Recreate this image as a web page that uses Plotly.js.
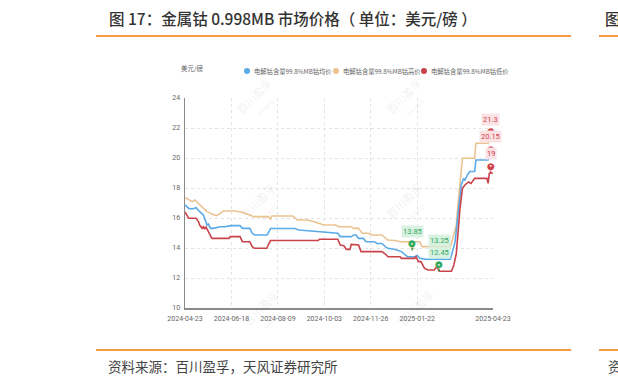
<!DOCTYPE html>
<html>
<head>
<meta charset="utf-8">
<script src="https://cdn.plot.ly/plotly-3.0.1.min.js"></script>
<style>html,body{margin:0;padding:0;background:#fff;}#chart{width:618px;height:384px;}</style>
</head>
<body>
<div id="chart"></div>
<script>
// ---- data (x = trading-day index from 2024-04-23) ----
const tickIdx = [0, 38, 76, 114, 152, 190, 252];
const tickLabels = ['2024-04-23', '2024-06-18', '2024-08-09', '2024-10-03', '2024-11-26', '2025-01-22', '2025-04-23'];
const seriesNames = ['电解钴含量99.8%MB钴均价', '电解钴含量99.8%MB钴高价', '电解钴含量99.8%MB钴低价'];

const xHigh = [0,3,6,8,11,15,18,23,26,29,31,41,47,53,56,68,70,71,88,92,100,105,113,123,126,136,138,142,145,150,153,161,164,166,172,176,184,186,188,192,194,217,219,222,223,225,226,227,237,238,248,250,252];
const yHigh = [17.36,17.2,17.09,17.2,16.98,16.64,16.42,16.24,16.16,16.31,16.47,16.47,16.38,16.2,16.09,16.09,15.93,16.13,16.13,15.87,15.87,15.76,15.55,15.53,15.42,15.42,15.31,15.31,14.98,14.98,14.87,14.87,14.64,14.53,14.5,14.42,14.42,13.85,14.42,14.42,14.09,14.09,14.64,15.53,16.64,18.2,18.87,19.98,19.98,20.98,20.98,21.3,21.3];

const xAvg = [0,3,6,9,12,15,16,18,19,21,23,26,29,33,37,45,47,53,55,57,67,68,70,90,93,108,122,125,127,136,138,140,142,146,148,155,157,161,164,166,172,177,182,188,190,192,197,217,218,221,223,225,226,228,229,231,233,237,238,248,250,252];
const yAvg = [16.87,16.64,16.6,16.69,16.42,16.2,15.98,15.53,15.6,15.31,15.31,15.38,15.42,15.42,15.49,15.49,15.31,15.31,14.98,14.87,14.87,14.98,15.3,15.3,15.2,15.1,14.98,14.98,14.76,14.76,14.87,14.87,14.64,14.64,14.42,14.42,14.3,14.3,14.09,13.98,13.9,13.76,13.42,13.42,13.5,13.31,13.25,13.25,13.5,14.42,15.98,17.31,18.2,18.64,18.5,18.87,19.1,19.1,19.87,19.87,20.15,20.15];

const xLow = [0,3,9,11,12,14,15,16,17,19,20,22,36,37,45,47,53,55,57,67,68,70,109,110,125,127,130,132,135,136,142,144,161,164,166,176,177,188,189,191,193,196,199,204,206,208,218,220,222,223,225,226,227,229,232,234,237,247,248,249,252];
const yLow = [16.4,15.98,15.98,15.76,15.53,15.31,15.42,15.25,15.42,15.09,14.87,14.64,14.64,14.76,14.76,14.42,14.42,14.09,13.98,13.98,14.2,14.5,14.5,14.58,14.58,14.2,14.15,13.91,13.91,14.24,14.2,13.76,13.76,13.6,13.42,13.42,13.31,13.31,13.42,13.09,13.09,12.64,12.53,12.53,12.76,12.45,12.45,12.87,13.64,14.87,16.64,17.31,17.98,18.2,18.4,18.3,18.64,18.64,18.31,18.98,19.0];

// extreme-value markers: [series, x index, value]
const minPoints = [['high', 186, 13.85], ['avg', 208, 13.25], ['low', 208, 12.45]];
const maxPoints = [['high', 250, 21.3], ['avg', 250, 20.15], ['low', 250, 19]];

// ---- styles ----
const cAvg = '#5AAAE8', cHigh = '#EAC391', cLow = '#C9434A';
const W = 618, H = 384;
const px = v => v / W, py = v => 1 - v / H;

const traces = [
  {x: xHigh, y: yHigh, name: seriesNames[1], mode: 'lines', line: {color: cHigh, width: 1.6}},
  {x: xAvg, y: yAvg, name: seriesNames[0], mode: 'lines', line: {color: cAvg, width: 1.6}},
  {x: xLow, y: yLow, name: seriesNames[2], mode: 'lines', line: {color: cLow, width: 1.6}}
];

const ann = [];
const cjk = '"Noto Sans CJK SC", "Noto Sans", sans-serif';
// title
ann.push({xref: 'paper', yref: 'paper', x: px(107), y: py(18), xanchor: 'left', yanchor: 'middle', showarrow: false,
  text: '图 17：金属钴 0.998MB 市场价格（ 单位：美元/磅 ）', font: {family: cjk, size: 15.5, color: '#333', weight: 500}});
ann.push({xref: 'paper', yref: 'paper', x: px(603), y: py(18), xanchor: 'left', yanchor: 'middle', showarrow: false,
  text: '图', font: {family: cjk, size: 15.5, color: '#333', weight: 500}});
// source
ann.push({xref: 'paper', yref: 'paper', x: px(106), y: py(366), xanchor: 'left', yanchor: 'middle', showarrow: false,
  text: '资料来源：百川盈孚，天风证券研究所', font: {family: cjk, size: 13.5, color: '#444'}});
ann.push({xref: 'paper', yref: 'paper', x: px(606), y: py(366), xanchor: 'left', yanchor: 'middle', showarrow: false,
  text: '资', font: {family: cjk, size: 13.5, color: '#444'}});
// unit
ann.push({xref: 'paper', yref: 'paper', x: px(179), y: py(68), xanchor: 'left', yanchor: 'middle', showarrow: false,
  text: '美元/磅', font: {family: cjk, size: 6.5, color: '#666'}});
// watermarks
[[258, 100], [262, 205], [265, 312], [408, 100], [408, 205], [420, 312]].forEach(p => {
  ann.push({xref: 'paper', yref: 'paper', x: px(p[0]), y: py(p[1]), xanchor: 'center', yanchor: 'middle', showarrow: false,
    textangle: -45, text: '百川盈孚<br><span style="font-size:6px">BAINFO</span>', font: {family: cjk, size: 11, color: 'rgba(120,120,120,0.12)'}});
});
// legend
const shapes = [];
const legX = [247, 336, 424];
const legCol = [cAvg, cHigh, cLow];
legX.forEach((lx, i) => {
  shapes.push({type: 'circle', xref: 'paper', yref: 'paper', xsizemode: 'pixel', ysizemode: 'pixel',
    xanchor: px(lx), yanchor: py(71), x0: -3, x1: 3, y0: -3, y1: 3, fillcolor: legCol[i], line: {width: 0}});
  ann.push({xref: 'paper', yref: 'paper', x: px(lx + 5), y: py(71), xanchor: 'left', yanchor: 'middle', showarrow: false,
    text: seriesNames[i], font: {family: cjk, size: 6.3, color: '#666'}});
});
// orange rules
[[36], [350]].forEach(r => {
  shapes.push({type: 'line', xref: 'paper', yref: 'paper', x0: px(96), x1: px(571), y0: py(r[0]), y1: py(r[0]), line: {color: '#F49A45', width: 2}});
  shapes.push({type: 'line', xref: 'paper', yref: 'paper', x0: px(599), x1: px(618), y0: py(r[0]), y1: py(r[0]), line: {color: '#F49A45', width: 2}});
});

// markers
function pin(x, y, color) {
  ann.push({x: x, y: y, showarrow: true, arrowhead: 0, arrowwidth: 1.5, arrowcolor: color, ax: 0, ay: -4,
    text: '', font: {size: 1}});
  ann.push({x: x, y: y, showarrow: false, yshift: 7, text: '●', font: {family: 'DejaVu Sans', size: 9, color: color}});
  ann.push({x: x, y: y, showarrow: false, yshift: 7, text: '•', font: {family: 'DejaVu Sans', size: 6, color: '#fff'}});
}
function lab(x, y, t, color, bg) {
  ann.push({x: x, y: y, showarrow: false, yshift: 19, text: t, bgcolor: bg, borderpad: 1,
    font: {family: 'Roboto, Arial, sans-serif', size: 7.5, color: color}});
}
const green = '#2FA85A', greenBg = 'rgba(214,240,222,0.95)';
const red = '#D2404A', redBg = 'rgba(250,226,228,0.97)';
// min markers
pin(minPoints[0][1], minPoints[0][2], green); lab(minPoints[0][1], minPoints[0][2], String(minPoints[0][2]), green, greenBg);
lab(minPoints[1][1], minPoints[1][2], String(minPoints[1][2]), green, greenBg);
pin(minPoints[2][1], minPoints[2][2], green); lab(minPoints[2][1], minPoints[2][2], String(minPoints[2][2]), green, greenBg);
// max markers
maxPoints.forEach(m => { pin(m[1], m[2], red); lab(m[1], m[2], String(m[2]), red, redBg); });

const axisCommon = {showgrid: true, gridcolor: '#e3e3e3', griddash: 'dot', gridwidth: 1, showline: true, linecolor: '#8a8a8a', linewidth: 1.5,
  ticks: '', zeroline: false, tickfont: {family: 'Roboto, Arial, sans-serif', size: 7, color: '#666'}, fixedrange: true};

const layout = {
  width: W, height: H, margin: {l: 0, r: 0, t: 0, b: 0}, paper_bgcolor: '#fff', plot_bgcolor: '#fff', showlegend: false,
  xaxis: Object.assign({}, axisCommon, {range: [0, 252], domain: [px(185), px(493)], tickmode: 'array', tickvals: tickIdx, ticktext: tickLabels, ticklabelstandoff: 3}),
  yaxis: Object.assign({}, axisCommon, {range: [10, 24], domain: [py(308), py(98)], tickmode: 'array', tickvals: [10, 12, 14, 16, 18, 20, 22, 24], ticklabelstandoff: 2}),
  annotations: ann, shapes: shapes
};

Plotly.newPlot('chart', traces, layout, {displayModeBar: false, staticPlot: true});
</script>
</body>
</html>
